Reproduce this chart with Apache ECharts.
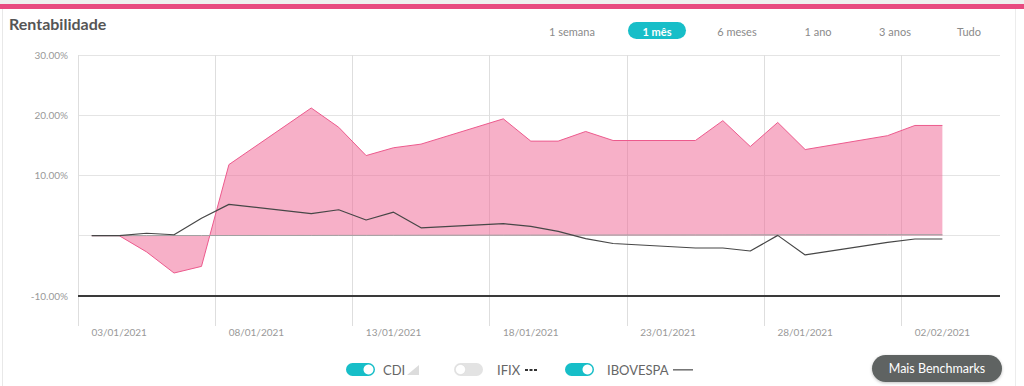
<!DOCTYPE html>
<html><head><meta charset="utf-8">
<script src="https://cdn.jsdelivr.net/npm/echarts@6/dist/echarts.min.js"></script>
<style>html,body{margin:0;padding:0;background:#fff;overflow:hidden}#c{width:1024px;height:386px}</style>
</head><body><div id="c"></div>
<script>
// Day categories (k = 0 .. 31)
const dates = ['02/01/2021','03/01/2021','04/01/2021','05/01/2021','06/01/2021','07/01/2021','08/01/2021','09/01/2021',
  '10/01/2021','11/01/2021','12/01/2021','13/01/2021','14/01/2021','15/01/2021','16/01/2021','17/01/2021',
  '18/01/2021','19/01/2021','20/01/2021','21/01/2021','22/01/2021','23/01/2021','24/01/2021','25/01/2021',
  '26/01/2021','27/01/2021','28/01/2021','29/01/2021','30/01/2021','31/01/2021','01/02/2021','02/02/2021'];
// Fund return (%), null where no quote
const fundo = [0,0,-2.7,-6.2,-5.1,11.8,null,null,21.2,18.0,13.3,14.6,15.2,null,null,19.4,
  15.7,15.7,17.3,15.8,null,null,15.8,19.1,14.8,18.8,14.3,null,null,16.6,18.3,18.3];
// IBOVESPA return (%)
const ibovespa = [0,0,0.4,0.15,2.9,5.2,null,null,3.65,4.3,2.6,3.9,1.3,null,null,2.0,
  1.55,0.7,-0.5,-1.3,null,null,-2.05,-2.05,-2.55,0.05,-3.2,null,null,-1.1,-0.55,-0.55];
// CDI return (%)
const cdi = [0,0,0.01,0.02,0.02,0.03,null,null,0.04,0.05,0.05,0.06,0.07,null,null,0.08,
  0.09,0.09,0.10,0.11,null,null,0.12,0.12,0.13,0.14,0.14,null,null,0.15,0.16,0.16];
const yTickLabels = [30, 20, 10, -10];
const periodButtons = ['1 semana','1 mês','6 meses','1 ano','3 anos','Tudo'];
const legendItems = ['CDI','IFIX','IBOVESPA'];

const toPairs = arr => arr.map((v,i)=> v==null?null:[i,v]).filter(p=>p);

const chart = echarts.init(document.getElementById('c'), null, {renderer:'svg'});
const FONT = 'Lato, "Open Sans", sans-serif';
const T = 'rgba(0,0,0,0)';
const vColors = ['#dedede',T,T,T,T,T,T,T,T,T];
const hColors = [T,T,T,'#e4e4e4',T,'#e4e4e4',T,'#e4e4e4',T,'#e4e4e4'];

const btnX = [572, 657, 737, 818, 895, 969];
const graphics = [
  {type:'rect', shape:{x:0,y:0,width:1024,height:4}, style:{fill:'#efefef'}},
  {type:'rect', shape:{x:0,y:4,width:1024,height:5}, style:{fill:'#e84a80'}},
  {type:'rect', shape:{x:2,y:9,width:1,height:377}, style:{fill:'#e8e8e8'}},
  {type:'rect', shape:{x:1015,y:9,width:1,height:377}, style:{fill:'#ececec'}},
  {type:'text', style:{text:'Rentabilidade', x:9, y:23, fill:'#555', font:'bold 16px '+FONT, textAlign:'left', textVerticalAlign:'middle', align:'left', verticalAlign:'middle'}},
  {type:'rect', shape:{x:628,y:22,width:58,height:17,r:8.5}, style:{fill:'#17bec8'}},
];
periodButtons.forEach((b,i)=>{
  const active = i===1;
  graphics.push({type:'text', style:{text:b, x:btnX[i], y:31, fill: active?'#fff':'#8a8a8a',
    font:(active?'bold ':'')+'11px '+FONT, textAlign:'center', textVerticalAlign:'middle', align:'center', verticalAlign:'middle'}});
});
// legend toggles
const tog = [{x:346,on:true,tx:383},{x:454,on:false,tx:497},{x:565,on:true,tx:607}];
tog.forEach((t,i)=>{
  graphics.push({type:'rect', shape:{x:t.x,y:363,width:29,height:13,r:6.5}, style:{fill:t.on?'#17bec8':'#e3e3e3'}});
  graphics.push({type:'circle', shape:{cx:t.on?t.x+22.5:t.x+6.5, cy:369.5, r:5}, style:{fill:'#fff', stroke:t.on?null:'#d6d6d6', lineWidth:0.5}});
  graphics.push({type:'text', style:{text:legendItems[i], x:t.tx, y:370, fill:'#666', font:'13px '+FONT, textAlign:'left', textVerticalAlign:'middle', align:'left', verticalAlign:'middle'}});
});
graphics.push({type:'polygon', shape:{points:[[407,375],[419,365],[419,375]]}, style:{fill:'#dcdcdc'}});
[525,529.5,534].forEach(x=>graphics.push({type:'rect', shape:{x:x,y:369,width:3,height:2}, style:{fill:'#333'}}));
graphics.push({type:'rect', shape:{x:673,y:369,width:20,height:1.6}, style:{fill:'#777'}});
graphics.push({type:'rect', shape:{x:872,y:355,width:130,height:27,r:13.5}, style:{fill:'#5f6462', shadowBlur:3, shadowColor:'rgba(0,0,0,0.25)', shadowOffsetY:1}});
graphics.push({type:'text', style:{text:'Mais Benchmarks', x:937, y:368.5, fill:'#fff', font:'12.5px '+FONT, textAlign:'center', textVerticalAlign:'middle', align:'center', verticalAlign:'middle'}});

chart.setOption({
  animation:false,
  backgroundColor:'#fff',
  grid:{left:78, top:55, right:24, bottom:60, containLabel:false},
  xAxis:{type:'value', min:-0.5, max:33.1, interval:0.5,
    axisLine:{show:false}, axisTick:{show:false},
    axisLabel:{color:'#999', fontSize:10, fontFamily:FONT, margin:1, showMinLabel:true, showMaxLabel:false,
      formatter:v=>{ const k=Math.round(v); return (Math.abs(v-k)<1e-6 && k%5===1 && dates[k]) ? dates[k] : ''; }},
    splitLine:{show:true, lineStyle:{color:vColors, width:1}}},
  yAxis:{type:'value', min:-15, max:30, interval:5,
    axisLine:{show:false}, axisTick:{show:false},
    axisLabel:{color:'#999', fontSize:10, fontFamily:FONT, margin:10,
      formatter:v=> yTickLabels.indexOf(v)>=0 ? v.toFixed(2)+'%' : ''},
    splitLine:{show:true, lineStyle:{color:hColors, width:1}}},
  graphic:graphics,
  series:[
    {name:'Fundo', type:'line', data:toPairs(fundo), showSymbol:false, symbol:'none',
      lineStyle:{color:'#ec5a8d', width:1}, itemStyle:{color:'#ec5a8d'},
      areaStyle:{color:'#f06292', opacity:0.5}, emphasis:{disabled:true}, z:2},
    {name:'CDI', type:'line', data:toPairs(cdi), showSymbol:false, symbol:'none',
      lineStyle:{color:'#a0a0a0', width:1}, areaStyle:{color:'#c8c8c8', opacity:0.3}, emphasis:{disabled:true}, z:3},
    {name:'IBOVESPA', type:'line', data:toPairs(ibovespa), showSymbol:false, symbol:'none',
      lineStyle:{color:'#474747', width:1.2}, emphasis:{disabled:true}, z:4,
      markLine:{silent:true, symbol:['none','none'], label:{show:false}, animation:false,
        lineStyle:{color:'#3a3a3a', width:2, type:'solid'}, data:[{yAxis:-10}]}}
  ]
});
</script></body></html>
